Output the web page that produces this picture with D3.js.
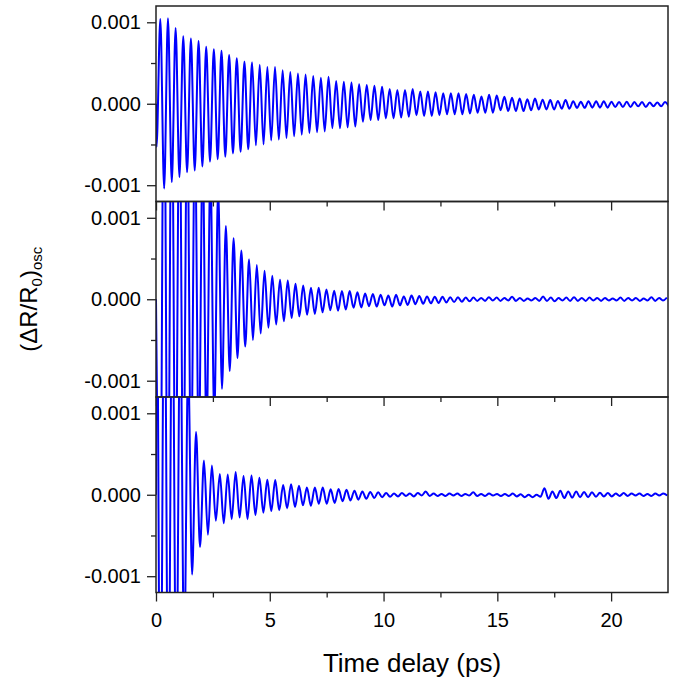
<!DOCTYPE html>
<html>
<head>
<meta charset="utf-8">
<script src="https://cdn.jsdelivr.net/npm/d3@7"></script>
<style>
	body { margin: 0; background: #fff; }
	text { font-family: "Liberation Sans", Arial, sans-serif; }
</style>
</head>
<body>
<svg id="chart" width="676" height="681"></svg>
<script>
//Axis ticks and labels.
var xTicks = [0, 5, 10, 15, 20];
var xMinor = [2.5, 7.5, 12.5, 17.5];
var yTicks = [-0.001, 0, 0.001];
var yTickLabels = ["-0.001", "0.000", "0.001"];
var yMinor = [-0.0005, 0.0005];

//Successive extrema of each trace (units of 1e-3).
//First extremum time and half period in ps.
var topStart = 0, topT0 = 0.022, topHalf = 0.168;
var topExtrema = [-0.53,
	1.04, -1.04, 1.05, -0.96, 0.93, -0.90, 0.83, -0.84, 0.80, -0.82,
	0.77, -0.77, 0.70, -0.71, 0.67, -0.68, 0.65, -0.65, 0.60, -0.61,
	0.56, -0.59, 0.52, -0.56, 0.51, -0.51, 0.48, -0.50, 0.45, -0.45,
	0.45, -0.44, 0.41, -0.42, 0.39, -0.40, 0.37, -0.38, 0.36, -0.36,
	0.34, -0.35, 0.32, -0.34, 0.33, -0.30, 0.28, -0.30, 0.27, -0.29,
	0.26, -0.28, 0.24, -0.22, 0.23, -0.20, 0.22, -0.20, 0.21, -0.18,
	0.18, -0.18, 0.17, -0.17, 0.17, -0.16, 0.18, -0.14, 0.15, -0.15,
	0.15, -0.15, 0.14, -0.14, 0.13, -0.13, 0.13, -0.13, 0.13, -0.13,
	0.12, -0.12, 0.11, -0.11, 0.09, -0.11, 0.11, -0.11, 0.10, -0.08,
	0.085, -0.09, 0.075, -0.09, 0.065, -0.09, 0.055, -0.08, 0.065, -0.07,
	0.05, -0.07, 0.045, -0.07, 0.035, -0.06, 0.045, -0.06, 0.03, -0.05,
	0.025, -0.05, 0.03, -0.048, 0.03, -0.048, 0.03, -0.048, 0.025, -0.04,
	0.02, -0.04, 0.025, -0.04, 0.02, -0.03, 0.02, -0.04, 0.015, -0.03,
	0.015, -0.03, 0.02, -0.03];

var midStart = 0, midT0 = 0.18, midHalf = 0.17;
var midExtrema = [
	-3.4, 3.3, -3.1, 3.0, -2.8, 2.7, -2.5, 2.4, -2.2, 2.1,
	-1.95, 1.85, -1.7, 1.6, -1.45, 1.35, -1.10, 0.90, -0.88, 0.75,
	-0.72, 0.60, -0.58, 0.49, -0.50, 0.42, -0.42, 0.35, -0.35, 0.29,
	-0.31, 0.24, -0.27, 0.23, -0.23, 0.19, -0.21, 0.17, -0.19, 0.14,
	-0.18, 0.14, -0.16, 0.12, -0.135, 0.105, -0.14, 0.10, -0.125, 0.10,
	-0.105, 0.085, -0.10, 0.07, -0.085, 0.065, -0.09, 0.055, -0.075, 0.045,
	-0.09, 0.055, -0.075, 0.035,
	-0.07, 0.045, -0.06, 0.04, -0.055, 0.035, -0.05, 0.03, -0.045, 0.03,
	-0.04, 0.025, -0.035, 0.025, -0.03, 0.02,
	-0.025, 0.02, -0.02, 0.015, -0.02, 0.025, -0.015, 0.02, -0.02, 0.015,
	-0.015, 0.03,
	-0.02, 0.015, -0.02, 0.01, -0.015, 0.015, -0.02, 0.035,
	-0.02, 0.02, -0.025, 0.015, -0.015, 0.02, -0.02, 0.025,
	-0.02, 0.015, -0.02, 0.02, -0.015, 0.015, -0.02, 0.015, -0.015, 0.01,
	-0.015, 0.02, -0.02, 0.015, -0.015, 0.015, -0.02, 0.01, -0.015, 0.025,
	-0.02, 0.015, -0.015, 0.02];

var lowStart = 0, lowT0 = 0.02, lowHalf = 0.174;
var lowExtrema = [
	3.5, -3.4, 3.2, -3.0, 2.8, -2.6, 2.3, -2.0, 1.6, -0.98,
	0.77, -0.64, 0.42, -0.49, 0.36, -0.32, 0.255, -0.35, 0.25, -0.30,
	0.28, -0.28, 0.23, -0.30, 0.235, -0.25, 0.21, -0.22, 0.185, -0.20,
	0.18, -0.19, 0.12, -0.165, 0.13, -0.15, 0.11, -0.13, 0.09, -0.135,
	0.09, -0.11, 0.09, -0.11, 0.066,
	-0.10, 0.07, -0.08, 0.06, -0.07, 0.05, -0.06, 0.04, -0.05, 0.035,
	-0.04, 0.03, -0.03,
	0.02, -0.025, 0.015, -0.02, 0.02, -0.015, 0.015, -0.02, 0.02, -0.01,
	0.04, -0.015,
	0.015, -0.015, 0.01, -0.015, 0.015, -0.01, 0.015, -0.015, 0.01, -0.01,
	0.03, -0.015,
	0.01, -0.015, 0.015, -0.01, 0.01, -0.015, 0.01, -0.015, 0.015, -0.02,
	0.005, -0.03, 0.0, -0.03, 0.0, -0.025,
	0.08, -0.05, 0.04, -0.04, 0.05, -0.04, 0.04, -0.035, 0.04, -0.03,
	0.035, -0.03, 0.03, -0.025, 0.025, -0.02,
	0.02, -0.02, 0.015, -0.015, 0.02, -0.015, 0.015, -0.01, 0.015, -0.015,
	0.01, -0.015, 0.015, -0.01, 0.015, -0.01];

var panels = [
	{start: topStart, t0: topT0, half: topHalf, ext: topExtrema},
	{start: midStart, t0: midT0, half: midHalf, ext: midExtrema},
	{start: lowStart, t0: lowT0, half: lowHalf, ext: lowExtrema}
];

var plotLeft = 156, plotRight = 668, plotTop = 6, panelH = 195.5;
var plotW = plotRight - plotLeft;

var svg = d3.select("#chart");

var x = d3.scaleLinear().domain([0, 22.5]).range([0, plotW]);
var y = d3.scaleLinear().domain([-0.0012, 0.0012]).range([panelH, 0]);

var line = d3.line()
	.x(function(d){ return x(d[0]); })
	.y(function(d){ return y(d[1] * 1e-3); })
	.curve(d3.curveMonotoneX);

panels.forEach(function(p, i){
	var g = svg.append("g")
		.attr("transform", "translate(" + plotLeft + "," + (plotTop + i * panelH) + ")");

	g.append("clipPath")
		.attr("id", "clip" + i)
		.append("rect")
		.attr("width", plotW)
		.attr("height", panelH);

	//Points: start value, then extrema at regular half periods.
	var pts = [[0, p.start]];
	p.ext.forEach(function(v, k){
		pts.push([p.t0 + k * p.half, v]);
	});

	g.append("path")
		.datum(pts)
		.attr("clip-path", "url(#clip" + i + ")")
		.attr("fill", "none")
		.attr("stroke", "#0000ff")
		.attr("stroke-width", 2)
		.attr("stroke-linejoin", "round")
		.attr("d", line);

	//Left axis, major and minor ticks.
	g.append("g")
		.call(d3.axisLeft(y).tickValues(yTicks).tickSize(9).tickPadding(6)
			.tickFormat(function(d, k){ return yTickLabels[k]; }));
	g.append("g")
		.call(d3.axisLeft(y).tickValues(yMinor).tickSize(5).tickFormat(""));

	//Bottom axis.
	g.append("g")
		.attr("transform", "translate(0," + panelH + ")")
		.call(d3.axisBottom(x).tickValues(xTicks).tickSize(9).tickPadding(11)
			.tickFormat(i === 2 ? d3.format("d") : ""));
	g.append("g")
		.attr("transform", "translate(0," + panelH + ")")
		.call(d3.axisBottom(x).tickValues(xMinor).tickSize(5).tickFormat(""));

	g.selectAll(".domain").remove();
	g.selectAll(".tick line").attr("stroke", "#222").attr("stroke-width", 1.3);
	g.selectAll(".tick text")
		.attr("fill", "#000")
		.style("font-size", "20px")
		.style("font-family", "'Liberation Sans', Arial, sans-serif");

	//Panel frame.
	g.append("rect")
		.attr("width", plotW)
		.attr("height", panelH)
		.attr("fill", "none")
		.attr("stroke", "#222")
		.attr("stroke-width", 1.5);
});

//Axis titles.
svg.append("text")
	.attr("x", plotLeft + plotW / 2)
	.attr("y", 672)
	.attr("text-anchor", "middle")
	.style("font-size", "26px")
	.text("Time delay (ps)");

var yTitle = svg.append("text")
	.attr("transform", "translate(37," + (plotTop + 1.5 * panelH) + ") rotate(-90)")
	.attr("text-anchor", "middle")
	.style("font-size", "24px");
yTitle.append("tspan").text("(\u0394R/R");
yTitle.append("tspan").attr("dy", 5).style("font-size", "15px").text("0");
yTitle.append("tspan").attr("dy", -5).text(")");
yTitle.append("tspan").attr("dy", 5).style("font-size", "15px").text("osc");
</script>
</body>
</html>
